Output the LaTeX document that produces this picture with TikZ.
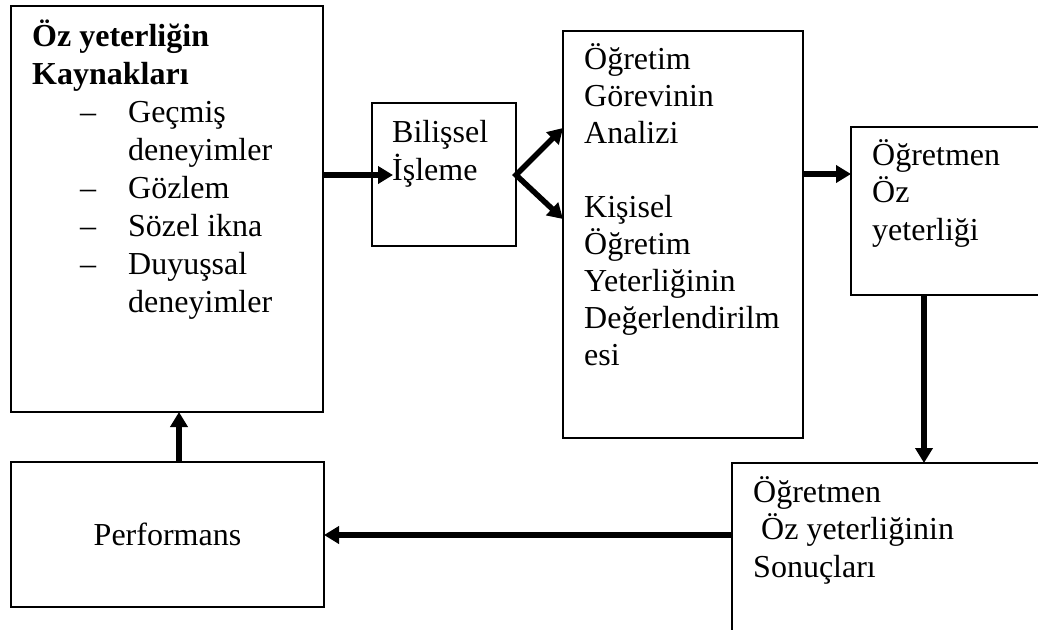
\documentclass[tikz,border=0pt]{standalone}
\usepackage{fontspec}
\setmainfont{Liberation Serif}
\usepackage{tikz}
\usetikzlibrary{arrows.meta}

\begin{document}
\begin{tikzpicture}[x=1pt, y=-1pt,
    kutu/.style={draw, line width=2pt, rectangle, anchor=north west, outer sep=0pt, inner sep=0pt},
    yazi/.style={anchor=base west, align=left, inner sep=0pt, font=\fontsize{32}{37.5}\selectfont},
    ok/.style={line width=5.5pt, -{Triangle[length=15pt,width=17pt]}}]
            \clip (0,0) rectangle (1038,629);
            \fill[white] (0,0) rectangle (1038,629);
            % kutular
            \node[kutu, minimum width=312pt, minimum height=406pt] (kaynak) at (11,6) {};
            \node[kutu, minimum width=144pt, minimum height=143pt] (bilis) at (372,103) {};
            \node[kutu, minimum width=240pt, minimum height=407pt] (ogretim) at (563,31) {};
            \node[kutu, minimum width=260pt, minimum height=168pt] (oyeter) at (851,127) {};
            \node[kutu, minimum width=313pt, minimum height=145pt] (perf) at (11,462) {};
            \node[kutu, minimum width=340pt, minimum height=200pt] (sonuc) at (732,463) {};
            % yazilar (base = son satirin tabani)
            \node[yazi, font=\fontsize{32}{38}\selectfont] (kaynakyazi) at (32,312)
                {\textbf{Öz yeterliğin}\\ \textbf{Kaynakları}\\
                 \hspace*{48pt}\makebox[48pt][l]{–}Geçmiş\\ \hspace*{96pt}deneyimler\\
                 \hspace*{48pt}\makebox[48pt][l]{–}Gözlem\\
                 \hspace*{48pt}\makebox[48pt][l]{–}Sözel ikna\\
                 \hspace*{48pt}\makebox[48pt][l]{–}Duyuşsal\\ \hspace*{96pt}deneyimler};
            \node[yazi, font=\fontsize{32}{38}\selectfont] (bilisyazi) at (392,180) {Bilişsel\\İşleme};
            \node[yazi, font=\fontsize{32}{37}\selectfont] (ogretimyazi) at (584,365)
                {Öğretim\\Görevinin\\Analizi\\[37pt]Kişisel\\Öğretim\\Yeterliğinin\\Değerlendirilm\\esi};
            \node[yazi] (oyeteryazi) at (872,240) {Öğretmen\\Öz\\yeterliği};
            \node[font=\fontsize{32}{37.5}\selectfont, inner sep=0pt] (perfyazi) at (perf.center) {Performans};
            \node[yazi] (sonucyazi) at (753,577) {Öğretmen\\\hspace*{8pt}Öz yeterliğinin\\Sonuçları};
            % oklar
            \coordinate (isleme) at (393,175);
            \coordinate (analiz) at (563,128);
            \coordinate (deger) at (563,219);
            \coordinate (oyetergiris) at (851,174);
            \coordinate (asagi) at (924,0);
            \coordinate (geri) at (0,535);
            \coordinate (yukari) at (179,0);
            \draw[ok] (kaynak.east |- isleme) -- (isleme);
            \draw[ok, {Triangle[length=15pt,width=17pt]}-{Triangle[length=15pt,width=17pt]}, line join=miter]
                (analiz) -- (bilis.east |- isleme) -- (deger);
            \draw[ok] (ogretim.east |- oyetergiris) -- (oyetergiris);
            \draw[ok] (oyeter.south -| asagi) -- (sonuc.north -| asagi);
            \draw[ok] (sonuc.west |- geri) -- (perf.east |- geri);
            \draw[ok] (perf.north -| yukari) -- (kaynak.south -| yukari);
\end{tikzpicture}
\end{document}
